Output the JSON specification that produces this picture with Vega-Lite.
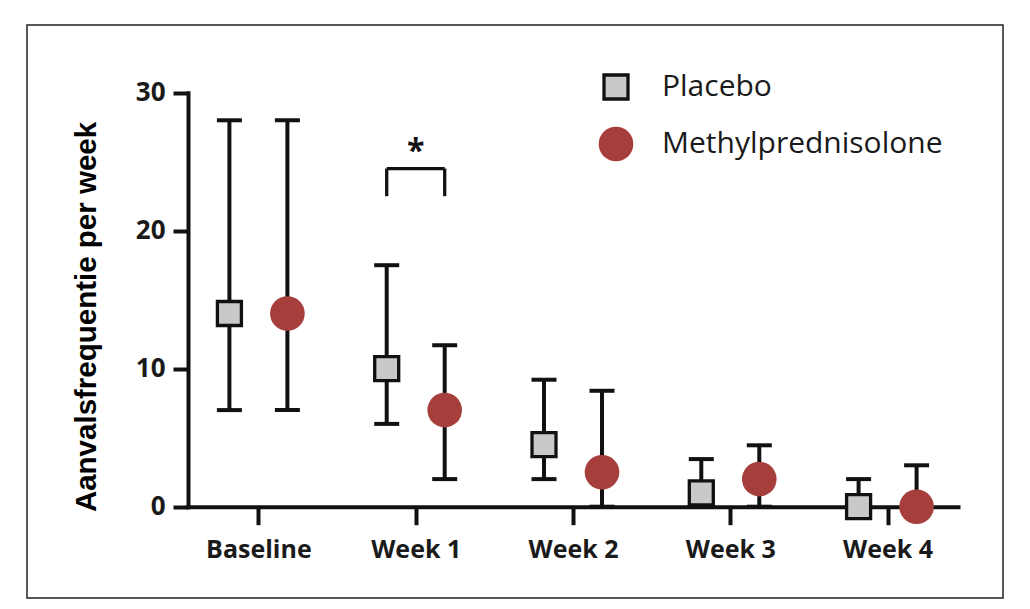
{
  "$schema": "https://vega.github.io/schema/vega-lite/v6.json",
  "width": 976,
  "height": 573,
  "autosize": {"type": "none"},
  "padding": {"left": 27, "top": 25, "right": 27, "bottom": 11},
  "background": "white",
  "config": {
    "view": {"stroke": "#222222", "strokeWidth": 1.5},
    "axis": {"grid": false}
  },
  "datasets": {
    "stats": [
      {"time": "Baseline", "group": "Placebo", "median": 14, "low": 7, "high": 28},
      {"time": "Baseline", "group": "Methylprednisolone", "median": 14, "low": 7, "high": 28},
      {"time": "Week 1", "group": "Placebo", "median": 10, "low": 6, "high": 17.5},
      {"time": "Week 1", "group": "Methylprednisolone", "median": 7, "low": 2, "high": 11.7},
      {"time": "Week 2", "group": "Placebo", "median": 4.5, "low": 2, "high": 9.2},
      {"time": "Week 2", "group": "Methylprednisolone", "median": 2.5, "low": 0, "high": 8.4},
      {"time": "Week 3", "group": "Placebo", "median": 1, "low": 0, "high": 3.45},
      {"time": "Week 3", "group": "Methylprednisolone", "median": 2, "low": 0, "high": 4.45},
      {"time": "Week 4", "group": "Placebo", "median": 0, "low": 0, "high": 2},
      {"time": "Week 4", "group": "Methylprednisolone", "median": 0, "low": 0, "high": 3}
    ],
    "sig": [
      {"time": "Week 1", "lo": 22.5, "hi": 24.5, "star": 25.0, "label": "*"}
    ]
  },
  "encoding": {
    "x": {
      "field": "time",
      "type": "nominal",
      "sort": ["Baseline", "Week 1", "Week 2", "Week 3", "Week 4"],
      "scale": {"type": "point", "domain": ["Baseline", "Week 1", "Week 2", "Week 3", "Week 4"], "range": [161, 931], "padding": 0.4476},
      "axis": {
        "title": null,
        "orient": "bottom",
        "offset": -91.3,
        "domainColor": "#111111",
        "domainWidth": 4,
        "domainCap": "square",
        "tickColor": "#111111",
        "tickWidth": 4,
        "tickSize": 18,
        "labelFont": "Open Sans",
        "labelFontWeight": "bold",
        "labelFontSize": 25,
        "labelColor": "#1a1a1a",
        "labelPadding": 13,
        "labelAngle": 0
      }
    }
  },
  "layer": [
    {
      "data": {"name": "stats"},
      "transform": [{"filter": "datum.group === 'Placebo'"}],
      "mark": {"type": "rule", "xOffset": -29, "strokeWidth": 4, "color": "#111111"},
      "encoding": {
        "y": {
          "field": "low",
          "type": "quantitative",
          "scale": {"domain": [0, 30], "range": [481.7, 67.7], "nice": false, "zero": true},
          "axis": {
            "orient": "left",
            "offset": -161,
            "values": [0, 10, 20, 30],
            "domainColor": "#111111",
            "domainWidth": 4,
            "domainCap": "square",
            "tickColor": "#111111",
            "tickWidth": 4,
            "tickSize": 15,
            "labelFont": "Open Sans",
            "labelFontWeight": "bold",
            "labelFontSize": 26,
            "labelColor": "#1a1a1a",
            "labelPadding": 8,
            "title": "Aanvalsfrequentie per week",
            "titleFont": "Liberation Sans",
            "titleFontWeight": "bold",
            "titleFontSize": 29.5,
            "titleColor": "#000000",
            "titleAngle": -90,
            "titleAlign": "center",
            "titleBaseline": "middle",
            "titleX": -102,
            "titleY": 291.5
          }
        },
        "y2": {"field": "high"}
      }
    },
    {
      "data": {"name": "stats"},
      "transform": [{"filter": "datum.group !== 'Placebo'"}],
      "mark": {"type": "rule", "xOffset": 29, "strokeWidth": 4, "color": "#111111"},
      "encoding": {
        "y": {"field": "low", "type": "quantitative"},
        "y2": {"field": "high"}
      }
    },
    {
      "data": {"name": "stats"},
      "transform": [
        {"filter": "datum.group === 'Placebo'"},
        {"fold": ["low", "high"], "as": ["end", "cap"]}
      ],
      "mark": {"type": "tick", "orient": "horizontal", "xOffset": -29, "size": 25, "thickness": 4, "color": "#111111", "opacity": 1},
      "encoding": {
        "y": {"field": "cap", "type": "quantitative"}
      }
    },
    {
      "data": {"name": "stats"},
      "transform": [
        {"filter": "datum.group !== 'Placebo'"},
        {"fold": ["low", "high"], "as": ["end", "cap"]}
      ],
      "mark": {"type": "tick", "orient": "horizontal", "xOffset": 29, "size": 25, "thickness": 4, "color": "#111111", "opacity": 1},
      "encoding": {
        "y": {"field": "cap", "type": "quantitative"}
      }
    },
    {
      "data": {"name": "stats"},
      "transform": [{"filter": "datum.group === 'Placebo'"}],
      "mark": {"type": "point", "filled": true, "xOffset": -29, "opacity": 1, "strokeWidth": 3.3},
      "encoding": {
        "y": {"field": "median", "type": "quantitative"},
        "shape": {"field": "group", "type": "nominal", "scale": {"domain": ["Placebo", "Methylprednisolone"], "range": ["square", "circle"]},
          "legend": {"orient": "none", "legendX": 570, "legendY": 47, "title": null, "padding": 0, "labelFont": "Open Sans", "labelFontSize": 30, "labelColor": "#1a1a1a", "labelOffset": 27, "labelLimit": 0, "rowPadding": 14, "symbolStrokeWidth": 3.3}},
        "fill": {"field": "group", "type": "nominal", "scale": {"domain": ["Placebo", "Methylprednisolone"], "range": ["#c9c9c9", "#a63f3b"]}},
        "stroke": {"field": "group", "type": "nominal", "scale": {"domain": ["Placebo", "Methylprednisolone"], "range": ["#111111", "transparent"]}},
        "size": {"field": "group", "type": "nominal", "scale": {"domain": ["Placebo", "Methylprednisolone"], "range": [576, 1200]}}
      }
    },
    {
      "data": {"name": "stats"},
      "transform": [{"filter": "datum.group !== 'Placebo'"}],
      "mark": {"type": "point", "filled": true, "xOffset": 29, "opacity": 1, "strokeWidth": 3.3},
      "encoding": {
        "y": {"field": "median", "type": "quantitative"},
        "shape": {"field": "group", "type": "nominal"},
        "fill": {"field": "group", "type": "nominal"},
        "stroke": {"field": "group", "type": "nominal"},
        "size": {"field": "group", "type": "nominal"}
      }
    },
    {
      "data": {"name": "sig"},
      "mark": {"type": "rule", "xOffset": -29, "x2Offset": 29, "strokeWidth": 3.3, "color": "#111111"},
      "encoding": {
        "x2": {"field": "time"},
        "y": {"field": "hi", "type": "quantitative"}
      }
    },
    {
      "data": {"name": "sig"},
      "mark": {"type": "rule", "xOffset": -29, "strokeWidth": 3.3, "color": "#111111"},
      "encoding": {
        "y": {"field": "lo", "type": "quantitative"},
        "y2": {"field": "hi"}
      }
    },
    {
      "data": {"name": "sig"},
      "mark": {"type": "rule", "xOffset": 29, "strokeWidth": 3.3, "color": "#111111"},
      "encoding": {
        "y": {"field": "lo", "type": "quantitative"},
        "y2": {"field": "hi"}
      }
    },
    {
      "data": {"name": "sig"},
      "mark": {"type": "text", "font": "Open Sans", "fontWeight": "bold", "fontSize": 32, "baseline": "alphabetic", "align": "center", "color": "#111111"},
      "encoding": {
        "y": {"field": "star", "type": "quantitative"},
        "text": {"field": "label"}
      }
    }
  ]
}
